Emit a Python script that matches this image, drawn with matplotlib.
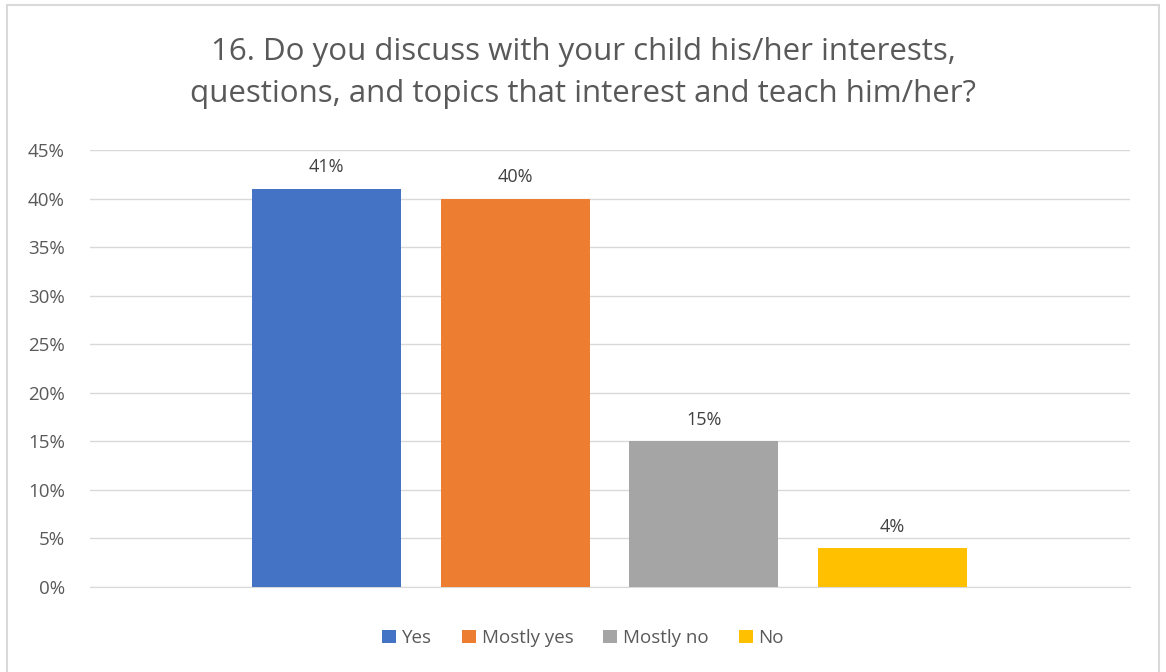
import numpy as np
import matplotlib.pyplot as plt
from matplotlib.ticker import PercentFormatter

# data
answers = ["Yes", "Mostly yes", "Mostly no", "No"]
shares = [0.41, 0.40, 0.15, 0.04]
colors = ["#4472c4", "#ed7d31", "#a5a5a5", "#ffc000"]
title = "16. Do you discuss with your child his/her interests,\nquestions, and topics that interest and teach him/her?"

plt.rcParams['font.family'] = ['Open Sans', 'DejaVu Sans']

W, H = 1166, 672
fig = plt.figure(figsize=(W / 100, H / 100), dpi=100)
# chart frame
fig.patches.append(plt.Rectangle((7 / W, -0.05), (1159 - 7) / W, 1.05 - 5 / H,
                                 transform=fig.transFigure, fill=False,
                                 edgecolor="#d9d9d9", linewidth=1.5))
ax = fig.add_axes([90 / W, 1 - 587 / H, (1130 - 90) / W, (587 - 150) / H])

x = np.arange(len(answers))
bars = []
for i in range(len(answers)):
    b = ax.bar(x[i], shares[i], width=0.79, color=colors[i], label=answers[i], zorder=3)
    bars.append(b)
    ax.annotate(f"{shares[i]:.0%}", (x[i], shares[i]), xytext=(0, 9),
                textcoords="offset points", ha="center", va="bottom",
                fontsize=13, color="#404040")

ax.set_xlim(-1.2535, 4.2588)
ax.set_ylim(0, 0.45)
ax.set_yticks(np.arange(0, 0.451, 0.05))
ax.yaxis.set_major_formatter(PercentFormatter(1.0, decimals=0))
ax.set_xticks([])
ax.tick_params(axis="y", length=0, labelsize=13.5, labelcolor="#595959", pad=18)
ax.grid(axis="y", color="#d9d9d9", linewidth=1, zorder=0)
for s in ["top", "right", "left"]:
    ax.spines[s].set_visible(False)
ax.spines["bottom"].set_color("#d9d9d9")

fig.text(0.5, 1 - 73 / H, title, ha="center", va="center", fontsize=22.5,
         color="#595959", linespacing=1.5)
fig.legend(handles=bars, labels=answers, loc="center", bbox_to_anchor=(0.5, 1 - 638 / H),
           ncol=4, frameon=False, fontsize=13.5, handlelength=0.75, handleheight=0.75,
           handletextpad=0.3, columnspacing=1.6, labelcolor="#595959")

fig.savefig("out.png", dpi=100)
